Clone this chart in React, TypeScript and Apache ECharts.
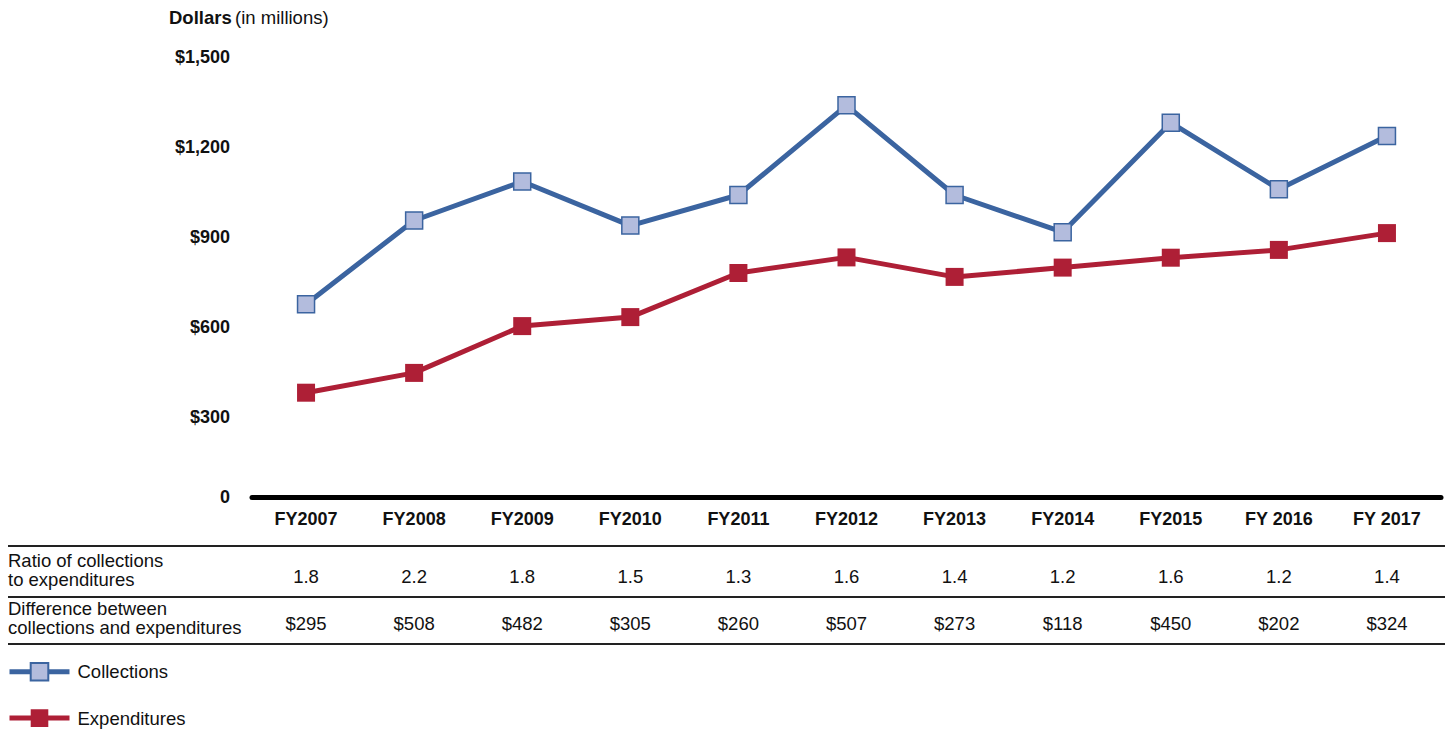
import React, { useEffect, useRef } from "react";
import * as echarts from "echarts";

const categories = ["FY2007", "FY2008", "FY2009", "FY2010", "FY2011", "FY2012", "FY2013", "FY2014", "FY2015", "FY 2016", "FY 2017"];
const collections = [676, 955, 1085, 938, 1040, 1339, 1040, 916, 1281, 1059, 1237];
const expenditures = [381, 447, 603, 633, 780, 832, 767, 798, 831, 857, 913];
const ratios = ["1.8", "2.2", "1.8", "1.5", "1.3", "1.6", "1.4", "1.2", "1.6", "1.2", "1.4"];
const differences = ["$295", "$508", "$482", "$305", "$260", "$507", "$273", "$118", "$450", "$202", "$324"];
const yTicks = [0, 300, 600, 900, 1200, 1500];

const FONT = "'Liberation Sans', Arial, sans-serif";
const BLUE = "#3b64a0";
const RED = "#ae1f36";

export default function App() {
  const ref = useRef<HTMLDivElement>(null);
  useEffect(() => {
    document.body.style.margin = "0";
    const chart = echarts.init(ref.current!, undefined, { renderer: "svg" });
    const option: any = {
      animation: false,
      backgroundColor: "#ffffff",
      textStyle: { fontFamily: FONT },
      grid: { left: 252, top: 57, width: 1189, height: 450 },
      xAxis: {
        type: "category",
        data: categories,
        boundaryGap: true,
        offset: -10,
        axisLine: { show: true, lineStyle: { color: "#000", width: 5 } },
        axisTick: { show: false },
        axisLabel: { margin: 13, fontFamily: FONT, fontSize: 18, fontWeight: "bold", color: "#111" },
        splitLine: { show: false },
      },
      yAxis: {
        type: "value",
        min: yTicks[0],
        max: yTicks[yTicks.length - 1],
        interval: 300,
        axisLine: { show: false },
        axisTick: { show: false },
        splitLine: { show: false },
        axisLabel: {
          margin: 22,
          fontFamily: FONT,
          fontSize: 18,
          fontWeight: "bold",
          color: "#111",
          formatter: (v: number) => (v === 0 ? "{z|0}" : "$" + v.toLocaleString("en-US")),
          rich: {
            z: { fontFamily: FONT, fontSize: 18, fontWeight: "bold", color: "#111", padding: [0, 0, 20, 0] },
          },
        },
      },
      legend: {
        orient: "vertical",
        left: 7,
        top: 662,
        padding: 0,
        itemWidth: 60,
        itemHeight: 22,
        itemGap: 27,
        lineStyle: { width: 5 },
        textStyle: { fontFamily: FONT, fontSize: 18.5, color: "#111", padding: [0, 0, 0, 3] },
        data: ["Collections", "Expenditures"],
      },
      series: [
        {
          name: "Collections",
          type: "line",
          data: collections,
          symbol: "rect",
          symbolSize: 17,
          lineStyle: { color: BLUE, width: 5 },
          itemStyle: { color: "#b3bcdd", borderColor: BLUE, borderWidth: 1.5 },
          z: 3,
        },
        {
          name: "Expenditures",
          type: "line",
          data: expenditures,
          symbol: "rect",
          symbolSize: 18,
          lineStyle: { color: RED, width: 5 },
          itemStyle: { color: RED, borderColor: RED, borderWidth: 0 },
          z: 2,
        },
      ],
    };
    chart.setOption(option);

    const els: any[] = [];
    els.push({
      type: "text",
      left: 169,
      top: 8,
      style: {
        text: "{b|Dollars} {n|(in millions)}",
        rich: {
          b: { fontFamily: FONT, fontSize: 18.5, fontWeight: "bold", fill: "#111" },
          n: { fontFamily: FONT, fontSize: 18.5, fill: "#111" },
        },
      },
    });
    [546, 597, 644].forEach((y) => {
      els.push({ type: "line", shape: { x1: 8, y1: y, x2: 1445, y2: y }, style: { stroke: "#222", lineWidth: 2 } });
    });
    els.push({
      type: "text",
      x: 8,
      y: 551,
      style: { text: "Ratio of collections\nto expenditures", fontFamily: FONT, fontSize: 18.5, lineHeight: 19, fill: "#111" },
    });
    els.push({
      type: "text",
      x: 8,
      y: 599,
      style: { text: "Difference between\ncollections and expenditures", fontFamily: FONT, fontSize: 18.5, lineHeight: 19, fill: "#111" },
    });
    categories.forEach((c, i) => {
      const x = chart.convertToPixel({ xAxisIndex: 0 }, c) as number;
      els.push({
        type: "text",
        x,
        y: 576,
        style: { text: ratios[i], fontFamily: FONT, fontSize: 18.5, fill: "#111", align: "center", verticalAlign: "middle" },
      });
      els.push({
        type: "text",
        x,
        y: 623,
        style: { text: differences[i], fontFamily: FONT, fontSize: 18.5, fill: "#111", align: "center", verticalAlign: "middle" },
      });
    });
    chart.setOption({ graphic: { elements: els } });

    return () => chart.dispose();
  }, []);
  return <div ref={ref} style={{ width: 1450, height: 731 }} />;
}
